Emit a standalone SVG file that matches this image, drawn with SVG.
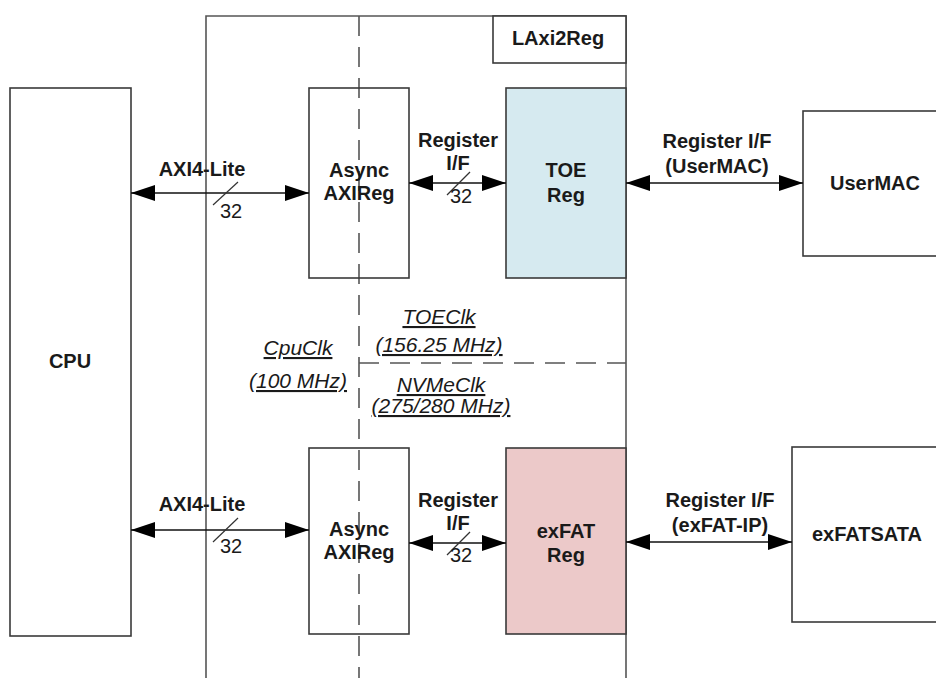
<svg xmlns="http://www.w3.org/2000/svg" width="936" height="678" viewBox="0 0 936 678">
<defs>
<style>
.box{fill:#fff;stroke:#3a3a3a;stroke-width:1.6}
.frame{fill:none;stroke:#555;stroke-width:1.6}
.dash{fill:none;stroke:#555;stroke-width:1.6;stroke-dasharray:20 11}
.conn{stroke:#111;stroke-width:1.6;fill:none}
.slash{stroke:#333;stroke-width:1.2}
.b{font-family:"Liberation Sans",Arial,sans-serif;font-weight:bold;font-size:20px;fill:#1a1a1a;text-anchor:middle}
.n{font-family:"Liberation Sans",Arial,sans-serif;font-size:20px;fill:#1a1a1a;text-anchor:middle}
.clk{font-family:"Liberation Sans",Arial,sans-serif;font-style:italic;font-size:21px;fill:#1a1a1a;text-anchor:middle;text-decoration:underline}
</style>
<marker id="ah" viewBox="0 0 24 16" refX="24" refY="8" markerWidth="24" markerHeight="16" markerUnits="userSpaceOnUse" orient="auto-start-reverse">
<path d="M0,0 L24,8 L0,16 z" fill="#000"/>
</marker>
</defs>
<rect width="936" height="678" fill="#fff"/>

<g id="LAxi2Reg">
<path class="frame" d="M206,678 V16 H626 V678"/>
<rect x="493" y="16" width="133" height="47" class="box"/>
<text class="b" x="558" y="45">LAxi2Reg</text>
</g>

<g id="clock-domains">
<line class="dash" x1="359" y1="16" x2="359" y2="678"/>
<line class="dash" x1="359" y1="363" x2="626" y2="363"/>
<text class="clk" x="298" y="355">CpuClk</text>
<text class="clk" x="298" y="388">(100 MHz)</text>
<text class="clk" x="439" y="324">TOEClk</text>
<text class="clk" x="439" y="352">(156.25 MHz)</text>
<text class="clk" x="441" y="392">NVMeClk</text>
<text class="clk" x="441" y="413">(275/280 MHz)</text>
</g>

<g id="CPU">
<rect x="10" y="88" width="121" height="548" class="box"/>
<text class="b" x="70" y="368">CPU</text>
</g>

<g id="AsyncAXIReg-top">
<rect x="309" y="88" width="100" height="190" class="box" fill-opacity="0"/>
<text class="b" x="359" y="177">Async</text>
<text class="b" x="359" y="200">AXIReg</text>
</g>

<g id="TOEReg">
<rect x="506" y="88" width="120" height="190" class="box" style="fill:#d6eaf0"/>
<text class="b" x="566" y="177">TOE</text>
<text class="b" x="566" y="202">Reg</text>
</g>

<g id="UserMAC">
<rect x="803" y="111" width="140" height="145" class="box"/>
<text class="b" x="875" y="190">UserMAC</text>
</g>

<g id="AsyncAXIReg-bottom">
<rect x="309" y="448" width="100" height="186" class="box" fill-opacity="0"/>
<text class="b" x="359" y="536">Async</text>
<text class="b" x="359" y="559">AXIReg</text>
</g>

<g id="exFATReg">
<rect x="506" y="448" width="120" height="186" class="box" style="fill:#ecc9c9"/>
<text class="b" x="566" y="538">exFAT</text>
<text class="b" x="566" y="562">Reg</text>
</g>

<g id="exFATSATA">
<rect x="792" y="447" width="150" height="175" class="box"/>
<text class="b" x="867" y="541">exFATSATA</text>
</g>

<g id="connectors">
<line class="conn" x1="131" y1="193" x2="309" y2="193" marker-start="url(#ah)" marker-end="url(#ah)"/>
<line class="slash" x1="213" y1="205" x2="238" y2="182"/>
<text class="b" x="202" y="176">AXI4-Lite</text>
<text class="n" x="231" y="218">32</text>

<line class="conn" x1="409" y1="183" x2="506" y2="183" marker-start="url(#ah)" marker-end="url(#ah)"/>
<line class="slash" x1="447" y1="195" x2="470" y2="172"/>
<text class="b" x="458" y="147">Register</text>
<text class="b" x="458" y="170">I/F</text>
<text class="n" x="461" y="203">32</text>

<line class="conn" x1="626" y1="183" x2="803" y2="183" marker-start="url(#ah)" marker-end="url(#ah)"/>
<text class="b" x="717" y="148">Register I/F</text>
<text class="b" x="717" y="173">(UserMAC)</text>

<line class="conn" x1="131" y1="530" x2="309" y2="530" marker-start="url(#ah)" marker-end="url(#ah)"/>
<line class="slash" x1="213" y1="542" x2="238" y2="518"/>
<text class="b" x="202" y="511">AXI4-Lite</text>
<text class="n" x="231" y="553">32</text>

<line class="conn" x1="409" y1="543" x2="506" y2="543" marker-start="url(#ah)" marker-end="url(#ah)"/>
<line class="slash" x1="447" y1="555" x2="470" y2="532"/>
<text class="b" x="458" y="507">Register</text>
<text class="b" x="458" y="530">I/F</text>
<text class="n" x="461" y="562">32</text>

<line class="conn" x1="626" y1="542" x2="792" y2="542" marker-start="url(#ah)" marker-end="url(#ah)"/>
<text class="b" x="720" y="507">Register I/F</text>
<text class="b" x="720" y="532">(exFAT-IP)</text>
</g>
</svg>
